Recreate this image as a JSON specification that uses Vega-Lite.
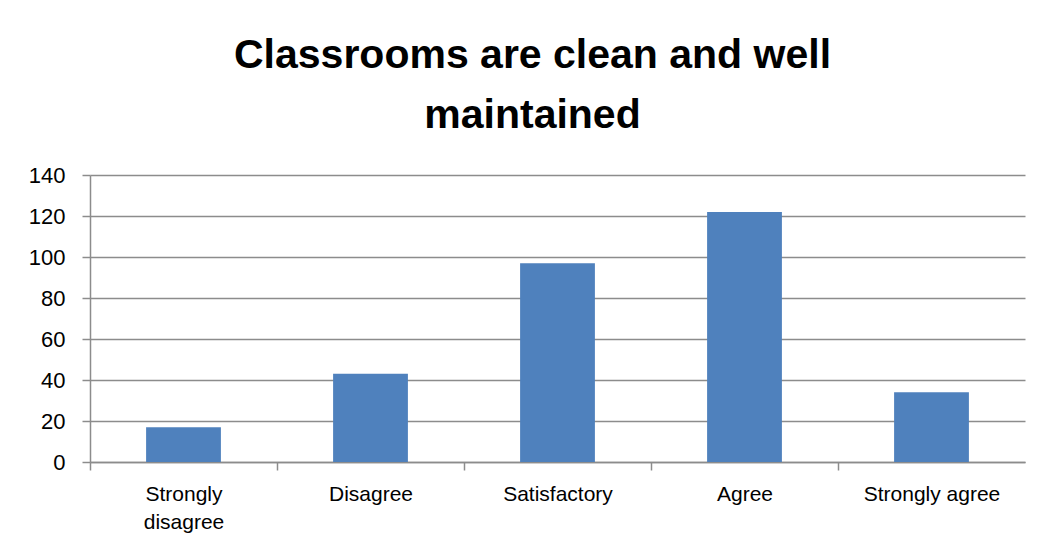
{
  "$schema": "https://vega.github.io/schema/vega-lite/v6.json",
  "width": 935,
  "height": 287,
  "autosize": {"type": "none"},
  "padding": {"left": 90, "top": 175, "right": 18, "bottom": 97},
  "background": "white",
  "title": {
    "text": ["Classrooms are clean and well", "maintained"],
    "anchor": "middle",
    "frame": "group",
    "dx": -25,
    "offset": 27,
    "font": "Liberation Sans",
    "fontSize": 41,
    "fontWeight": "bold",
    "color": "#000000",
    "lineHeight": 60
  },
  "data": {
    "values": [
      {"category": "Strongly disagree", "count": 17},
      {"category": "Disagree", "count": 43},
      {"category": "Satisfactory", "count": 97},
      {"category": "Agree", "count": 122},
      {"category": "Strongly agree", "count": 34}
    ]
  },
  "mark": {"type": "bar", "color": "#4F81BD"},
  "encoding": {
    "x": {
      "field": "category",
      "type": "nominal",
      "sort": null,
      "scale": {"paddingInner": 0.6, "paddingOuter": 0.3},
      "axis": {
        "title": null,
        "labelAngle": 0,
        "tickOffset": -93.5,
        "labelOffset": 93.5,
        "labelExpr": "datum.value == 'Strongly disagree' ? ['Strongly', 'disagree'] : datum.value",
        "labelFont": "Liberation Sans",
        "labelFontSize": 21,
        "labelColor": "#000000",
        "labelPadding": 13,
        "labelLineHeight": 28,
        "domainColor": "#8c8c8c",
        "domainWidth": 1.5,
        "tickColor": "#8c8c8c",
        "tickWidth": 1.5,
        "tickSize": 8,
        "grid": false
      }
    },
    "y": {
      "field": "count",
      "type": "quantitative",
      "scale": {"domain": [0, 140]},
      "axis": {
        "title": null,
        "values": [0, 20, 40, 60, 80, 100, 120, 140],
        "labelFont": "Liberation Sans",
        "labelFontSize": 22,
        "labelColor": "#000000",
        "labelPadding": 17,
        "domainColor": "#8c8c8c",
        "domainWidth": 1.5,
        "tickColor": "#8c8c8c",
        "tickWidth": 1.5,
        "tickSize": 8,
        "gridColor": "#8c8c8c",
        "gridWidth": 1.5
      }
    }
  },
  "config": {
    "view": {"stroke": null}
  }
}
